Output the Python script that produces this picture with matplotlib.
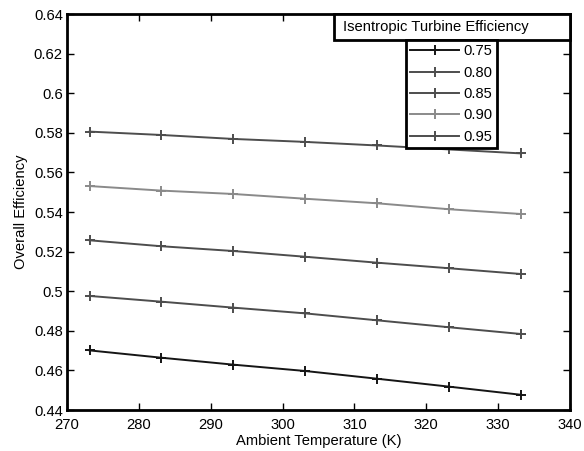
import matplotlib
matplotlib.use("Agg")
import matplotlib.pyplot as plt
from matplotlib.patches import Rectangle

plt.rcParams['font.family'] = ['Liberation Sans', 'DejaVu Sans']

temps = [273.15, 283.15, 293.15, 303.15, 313.15, 323.15, 333.15]
eff_075 = [0.4701, 0.4664, 0.4629, 0.4597, 0.4558, 0.4518, 0.4477]
eff_080 = [0.4976, 0.4947, 0.4917, 0.4888, 0.4853, 0.4818, 0.4784]
eff_085 = [0.5257, 0.5227, 0.5203, 0.5174, 0.5144, 0.5116, 0.5087]
eff_090 = [0.5531, 0.5508, 0.5491, 0.5467, 0.5444, 0.5414, 0.5390]
eff_095 = [0.5806, 0.5789, 0.5769, 0.5754, 0.5736, 0.5716, 0.5696]
labels = ['0.75', '0.80', '0.85', '0.90', '0.95']
series = [eff_075, eff_080, eff_085, eff_090, eff_095]
colors = ['#151515', '#4d4d4d', '#4d4d4d', '#8a8a8a', '#4d4d4d']
xticks = [270, 280, 290, 300, 310, 320, 330, 340]
yticks = [0.44, 0.46, 0.48, 0.5, 0.52, 0.54, 0.56, 0.58, 0.6, 0.62, 0.64]
ytick_labels = ['0.44', '0.46', '0.48', '0.5', '0.52', '0.54', '0.56', '0.58', '0.6', '0.62', '0.64']

FS = 10.6
W, H = 584, 451
fig = plt.figure(figsize=(W / 100, H / 100), dpi=100)
L, R, T, B = 67, 570, 14, 410
ax = fig.add_axes([L / W, 1 - B / H, (R - L) / W, (B - T) / H])

handles = []
for vals, c, lab in zip(series, colors, labels):
    h, = ax.plot(temps, vals, color=c, lw=1.4, marker='+', markersize=7.5,
                 markeredgewidth=1.4, label=lab)
    handles.append(h)

ax.set_xlim(270, 340)
ax.set_ylim(0.44, 0.64)
ax.set_xticks(xticks)
ax.set_yticks(yticks)
ax.set_yticklabels(ytick_labels)
ax.tick_params(direction='in', top=True, right=True, length=5, width=1,
               labelsize=FS)
ax.tick_params(axis='x', pad=6)
ax.tick_params(axis='y', pad=3)
for s in ax.spines.values():
    s.set_linewidth(2)
ax.set_xlabel('Ambient Temperature (K)', fontsize=FS, labelpad=1)
ax.set_ylabel('Overall Efficiency', fontsize=FS, labelpad=4)

# title box
x0 = (334 - L) / (R - L)
y0 = (B - 40) / (B - T)
ax.add_patch(Rectangle((x0, y0), 1 - x0, 1 - y0, transform=ax.transAxes,
                       facecolor='white', edgecolor='black', lw=2,
                       clip_on=False, zorder=5))
ax.text((343 - L) / (R - L), (y0 + 1) / 2, 'Isentropic Turbine Efficiency',
        transform=ax.transAxes, ha='left', va='center', fontsize=FS, zorder=6)

leg = ax.legend(handles=handles, loc='upper left',
                bbox_to_anchor=((406 - L) / (R - L), y0),
                fontsize=FS, frameon=True, fancybox=False, framealpha=1,
                edgecolor='black', handlelength=3.3, handletextpad=0.3,
                borderpad=0.3, labelspacing=0.5, borderaxespad=0)
leg.get_frame().set_linewidth(2)
leg.set_zorder(7)

fig.savefig('out.png', dpi=100)
